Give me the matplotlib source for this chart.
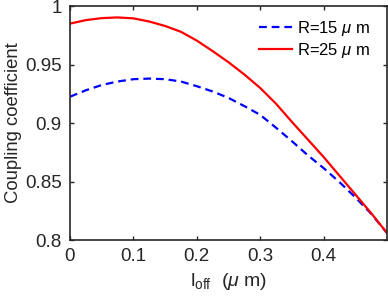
import matplotlib
matplotlib.use('Agg')
import matplotlib.pyplot as plt

plt.rcParams['font.family'] = ['Liberation Sans', 'DejaVu Sans']
plt.rcParams['mathtext.fontset'] = 'custom'
plt.rcParams['mathtext.rm'] = 'Liberation Sans'
plt.rcParams['mathtext.it'] = 'Liberation Sans:italic'

# values
l_off = [0.0, 0.025, 0.05, 0.075, 0.1, 0.125, 0.15, 0.175, 0.2, 0.225, 0.25,
         0.275, 0.3, 0.325, 0.35, 0.375, 0.4, 0.425, 0.45, 0.475, 0.5]
k_r15 = [0.9225, 0.9280, 0.9325, 0.9355, 0.9375, 0.9380, 0.9375, 0.9355, 0.9315,
         0.9270, 0.9215, 0.9145, 0.9070, 0.8960, 0.8845, 0.8725, 0.8615, 0.8495,
         0.8365, 0.8225, 0.8060]
k_r25 = [0.9850, 0.9880, 0.9897, 0.9903, 0.9895, 0.9868, 0.9830, 0.9780, 0.9705,
         0.9615, 0.9520, 0.9415, 0.9300, 0.9165, 0.9010, 0.8860, 0.8710, 0.8550,
         0.8390, 0.8230, 0.8060]
labels = [r'R=15 $\mu$ m', r'R=25 $\mu$ m']

fig = plt.figure(figsize=(3.88, 2.98), dpi=100)
ax = fig.add_axes([0.1804, 0.1946, 0.817, 0.785])

ax.plot(l_off, k_r15, color='#0000ff', lw=1.6, ls=(0, (3.5, 2.2)), label=labels[0])
ax.plot(l_off, k_r25, color='#ff0000', lw=1.6, label=labels[1])

ax.set_xlim(0, 0.5)
ax.set_ylim(0.8, 1.0)
ax.set_xticks([0, 0.1, 0.2, 0.3, 0.4])
ax.set_xticklabels(['0', '0.1', '0.2', '0.3', '0.4'])
ax.set_yticks([0.8, 0.85, 0.9, 0.95, 1.0])
ax.set_yticklabels(['0.8', '0.85', '0.9', '0.95', '1'])
ax.tick_params(direction='in', top=True, right=True, labelsize=13.5,
               length=3, width=1, colors='#262626', labelcolor='#262626', pad=6)
for s in ax.spines.values():
    s.set_linewidth(1.2)
    s.set_color('#262626')

ax.set_xlabel(r'l$_{\rm off}$  ($\mu$ m)', fontsize=14, color='#262626', labelpad=4)
ax.set_ylabel('Coupling coefficient', fontsize=13.3, color='#262626', labelpad=2)

ax.legend(loc='upper right', bbox_to_anchor=(0.968, 0.974), frameon=False,
          fontsize=12, handlelength=2.0, handletextpad=0.3, borderaxespad=0,
          labelspacing=0.2)

fig.savefig('out.png', dpi=100)
